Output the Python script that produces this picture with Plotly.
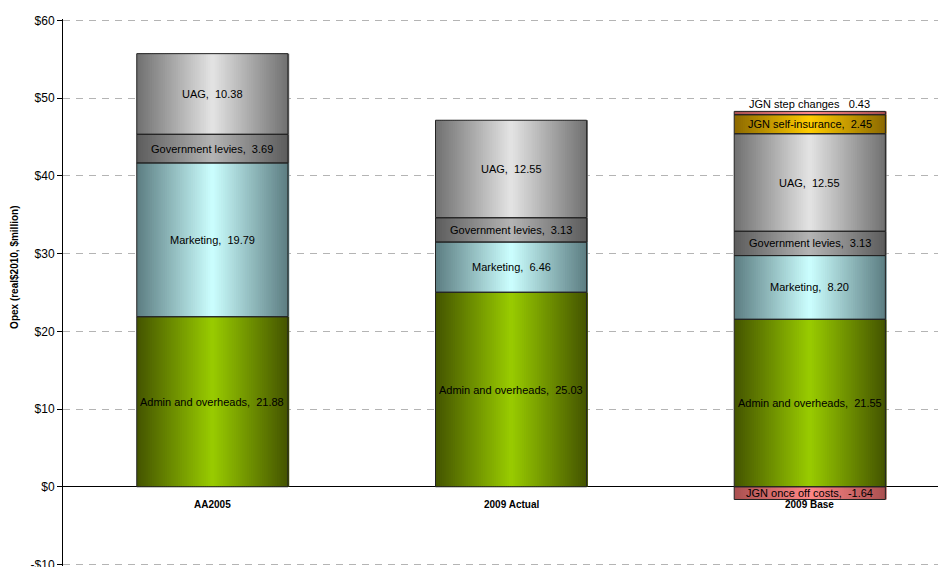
import plotly.graph_objects as go

categories = ["AA2005", "2009 Actual", "2009 Base"]

# Segment values per category (stack order bottom -> top; negative goes below zero)
once_off = [0, 0, -1.64]
admin = [21.88, 25.03, 21.55]
marketing = [19.79, 6.46, 8.20]
gov_levies = [3.69, 3.13, 3.13]
uag = [10.38, 12.55, 12.55]
self_ins = [0, 0, 2.45]
step_changes = [0, 0, 0.43]

series_names = ["JGN once off costs", "Admin and overheads", "Marketing",
                "Government levies", "UAG", "JGN self-insurance", "JGN step changes"]
series_values = [once_off, admin, marketing, gov_levies, uag, self_ins, step_changes]

y_ticks = [-10, 0, 10, 20, 30, 40, 50, 60]
y_tick_labels = ["-$10", "$0", "$10", "$20", "$30", "$40", "$50", "$60"]

# gradient colours (edge, centre)
grad = {
    "JGN once off costs": ((170, 80, 80), (255, 135, 135)),
    "Admin and overheads": ((68, 84, 0), (153, 204, 0)),
    "Marketing": ((92, 125, 130), (204, 255, 255)),
    "Government levies": ((92, 92, 92), (180, 180, 180)),
    "UAG": ((112, 112, 112), (228, 228, 228)),
    "JGN self-insurance": ((140, 105, 0), (255, 204, 0)),
    "JGN step changes": ((170, 80, 80), (255, 135, 135)),
}

BAR_W = 0.506
N = 70

# compute bases (relative stacking)
bases = {}
pos_cum = [0.0] * len(categories)
neg_cum = [0.0] * len(categories)
for name, vals in zip(series_names, series_values):
    b = []
    for i, v in enumerate(vals):
        if v >= 0:
            b.append(pos_cum[i]); pos_cum[i] += v
        else:
            b.append(neg_cum[i] + v); neg_cum[i] += v
    bases[name] = b

fig = go.Figure()


def mix(e, c, t):
    return "rgb(%d,%d,%d)" % tuple(round(e[k] + (c[k] - e[k]) * t) for k in range(3))


for name, vals in zip(series_names, series_values):
    e, c = grad[name]
    xs, ys, bs, offs, cols = [], [], [], [], []
    for i, v in enumerate(vals):
        if v == 0:
            continue
        base = bases[name][i]
        height = abs(v)
        for s in range(N):
            t = (s + 0.5) / N
            w = 1 - abs(2 * t - 1)
            xs.append(categories[i])
            ys.append(height)
            bs.append(base)
            offs.append(-BAR_W / 2 + s * BAR_W / N)
            cols.append(mix(e, c, w))
    fig.add_trace(go.Bar(x=xs, y=ys, base=bs, offset=offs, width=BAR_W / N * 1.6,
                         marker=dict(color=cols, line=dict(width=0)),
                         showlegend=False, hoverinfo="skip"))

# outlines
for name, vals in zip(series_names, series_values):
    xs, ys, bs = [], [], []
    for i, v in enumerate(vals):
        if v == 0:
            continue
        xs.append(categories[i]); ys.append(abs(v)); bs.append(bases[name][i])
    fig.add_trace(go.Bar(x=xs, y=ys, base=bs, width=BAR_W,
                         marker=dict(color="rgba(0,0,0,0)", line=dict(color="#222222", width=1)),
                         showlegend=False, hoverinfo="skip"))

# labels
NB = "\u00a0"
for name, vals in zip(series_names, series_values):
    for i, v in enumerate(vals):
        if v == 0:
            continue
        if name == "JGN step changes":
            fig.add_annotation(x=categories[i], y=bases[name][i] + v, yanchor="bottom",
                               text=name + NB * 3 + "%.2f" % v, showarrow=False,
                               font=dict(size=11, color="#000000"), yshift=-1)
        else:
            fig.add_annotation(x=categories[i], y=bases[name][i] + abs(v) / 2,
                               text=name + "," + NB * 2 + "%.2f" % v, showarrow=False,
                               font=dict(size=11, color="#000000"))

for c in categories:
    fig.add_annotation(x=c, y=0, yanchor="top", yshift=-10, text="<b>%s</b>" % c,
                       showarrow=False, font=dict(size=10, color="#000000"))

# y axis title
fig.add_annotation(xref="paper", yref="paper", x=0, y=0.545, xshift=-48,
                   xanchor="center", yanchor="middle", textangle=-90, showarrow=False,
                   text="<b>Opex (real$2010, $million)</b>", font=dict(size=10, color="#000000"))

fig.update_layout(
    width=938, height=559,
    margin=dict(l=55, r=0, t=10.5, b=0.5, autoexpand=False),
    paper_bgcolor="white", plot_bgcolor="white",
    barmode="overlay",
    font=dict(family="Liberation Sans, Arial, sans-serif", color="#000000"),
    xaxis=dict(range=[-0.5, 2.456], showticklabels=False, showgrid=False, zeroline=False,
               showline=False, ticks="", categoryorder="array", categoryarray=categories,
               automargin=False),
    yaxis=dict(range=[-10.2, 60.2], tickvals=y_ticks, ticktext=y_tick_labels,
               tickfont=dict(size=12), showgrid=True, gridcolor="#b4b4b4",
               griddash="7px,6px", gridwidth=1, zeroline=True, zerolinecolor="#000000",
               zerolinewidth=1, showline=True, linecolor="#000000", linewidth=1,
               ticks="outside", ticklen=5, tickcolor="#000000",
               ticklabeloverflow="allow", automargin=False),
)

fig.write_html("out.html")
